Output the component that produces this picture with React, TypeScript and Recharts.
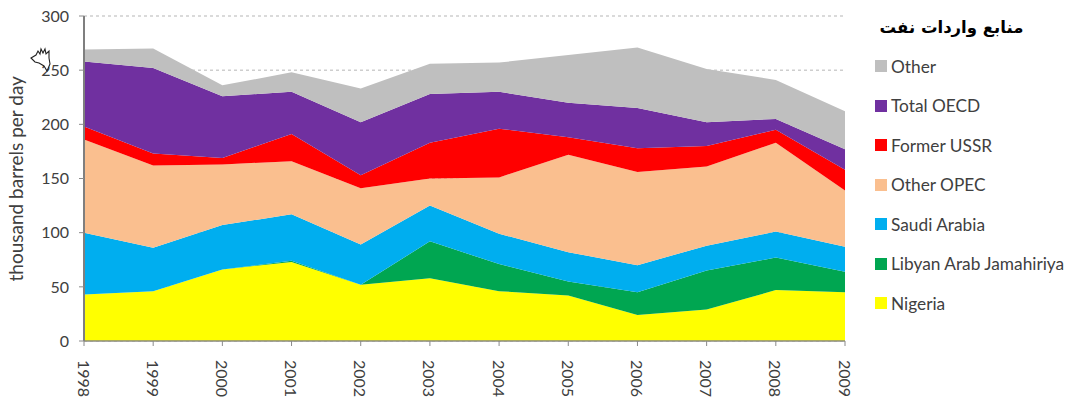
import React from "react";
import { AreaChart, Area, XAxis, YAxis, CartesianGrid, ReferenceLine } from "recharts";

const years = ["1998", "1999", "2000", "2001", "2002", "2003", "2004", "2005", "2006", "2007", "2008", "2009"];
const nigeria = [43, 46, 66, 73, 52, 58, 46, 42, 24, 29, 47, 45];
const libya = [0, 0, 0, 1, 0, 34, 25, 13, 21, 36, 30, 19];
const saudi = [57, 40, 41, 43, 37, 33, 28, 27, 25, 23, 24, 23];
const otherOpec = [86, 76, 56, 49, 52, 25, 52, 90, 86, 73, 82, 52];
const ussr = [12, 11, 6, 25, 12, 33, 45, 16, 22, 19, 12, 19];
const oecd = [60, 79, 57, 39, 49, 45, 34, 32, 37, 22, 10, 19];
const other = [11, 18, 10, 18, 31, 28, 27, 44, 56, 49, 36, 35];
const yTicks = [0, 50, 100, 150, 200, 250, 300];

const FONT = "Lato, 'Open Sans', sans-serif";
const TEXT = "#404040";

// bottom to top, stacking order
const series = [
  { key: "Nigeria", values: nigeria, color: "#ffff00" },
  { key: "Libyan Arab Jamahiriya", values: libya, color: "#00a651" },
  { key: "Saudi Arabia", values: saudi, color: "#00aeef" },
  { key: "Other OPEC", values: otherOpec, color: "#fabf8f" },
  { key: "Former USSR", values: ussr, color: "#ff0000" },
  { key: "Total OECD", values: oecd, color: "#7030a0" },
  { key: "Other", values: other, color: "#bfbfbf" },
];

const data = years.map((year, i) => {
  const row: Record<string, string | number> = { year };
  series.forEach((s) => (row[s.key] = s.values[i]));
  return row;
});

const YearTick = ({ x, y, payload }: any) => (
  <text
    x={x}
    y={y + 12}
    transform={`rotate(90 ${x} ${y + 12})`}
    fontFamily={FONT}
    fontSize={16}
    fill={TEXT}
    dominantBaseline="central"
  >
    {payload.value}
  </text>
);

export default function App() {
  return (
    <div style={{ position: "absolute", left: 0, top: 0, width: 1068, height: 403, background: "#fff", overflow: "hidden" }}>
      <AreaChart
        width={1068}
        height={403}
        data={data}
        margin={{ top: 16, right: 223, bottom: 0, left: 0 }}
      >
        <CartesianGrid horizontal vertical={false} stroke="#b5b5b5" strokeDasharray="3 3" />
        <XAxis
          dataKey="year"
          scale="point"
          padding={{ left: 0, right: 0 }}
          height={62}
          interval={0}
          tick={<YearTick />}
          tickSize={5}
          axisLine={{ stroke: "#8a8a8a", strokeWidth: 1 }}
          tickLine={{ stroke: "#8a8a8a" }}
        />
        <YAxis
          width={84}
          domain={[0, 300]}
          ticks={yTicks}
          interval={0}
          tick={{ fontFamily: FONT, fontSize: 16, fill: TEXT }}
          tickSize={5}
          tickMargin={10}
          axisLine={{ stroke: "#7f7f7f", strokeWidth: 2 }}
          tickLine={{ stroke: "#8a8a8a" }}
          label={{
            value: "thousand barrels per day",
            angle: -90,
            position: "insideLeft",
            offset: 16,
            dy: 103,
            style: { fontFamily: FONT, fontSize: 19, fill: TEXT },
          }}
        />
        {series.map((s) => (
          <Area
            key={s.key}
            type="linear"
            dataKey={s.key}
            stackId="imports"
            fill={s.color}
            fillOpacity={1}
            stroke="none"
            dot={false}
            activeDot={false}
            isAnimationActive={false}
          />
        ))}
        <ReferenceLine y={0} stroke="#8a8a6a" strokeWidth={1} />
      </AreaChart>

      {/* the little hand cursor sitting on the y axis in the source image */}
      <svg style={{ position: "absolute", left: 29, top: 46 }} width={24} height={26} viewBox="0 0 24 26" fill="#fff" stroke="#222" strokeWidth={1.1}>
        <path d="M2 12 L7 9 L9 5 L11 8 L12 3 L14 7 L16 3 L17 8 L20 5 L20 12 L21 18 L18 25 L15 20 L10 17 L6 16 Z" />
      </svg>

      <div
        dir="rtl"
        style={{
          position: "absolute",
          left: 860,
          top: 18,
          width: 183,
          textAlign: "center",
          whiteSpace: "nowrap",
          fontFamily: "'DejaVu Sans', 'Noto Sans', sans-serif",
          fontSize: 16.5,
          fontWeight: 700,
          color: "#000",
        }}
      >
        منابع واردات نفت
      </div>

      {[...series].reverse().map((s, i) => (
        <div
          key={s.key}
          style={{
            position: "absolute",
            left: 875,
            top: 54 + i * 39.5,
            display: "flex",
            alignItems: "center",
            height: 24,
            fontFamily: FONT,
            fontSize: 17.3,
            color: TEXT,
            whiteSpace: "nowrap",
          }}
        >
          <span style={{ width: 12, height: 12, background: s.color, marginRight: 4, display: "inline-block" }} />
          {s.key}
        </div>
      ))}
    </div>
  );
}
